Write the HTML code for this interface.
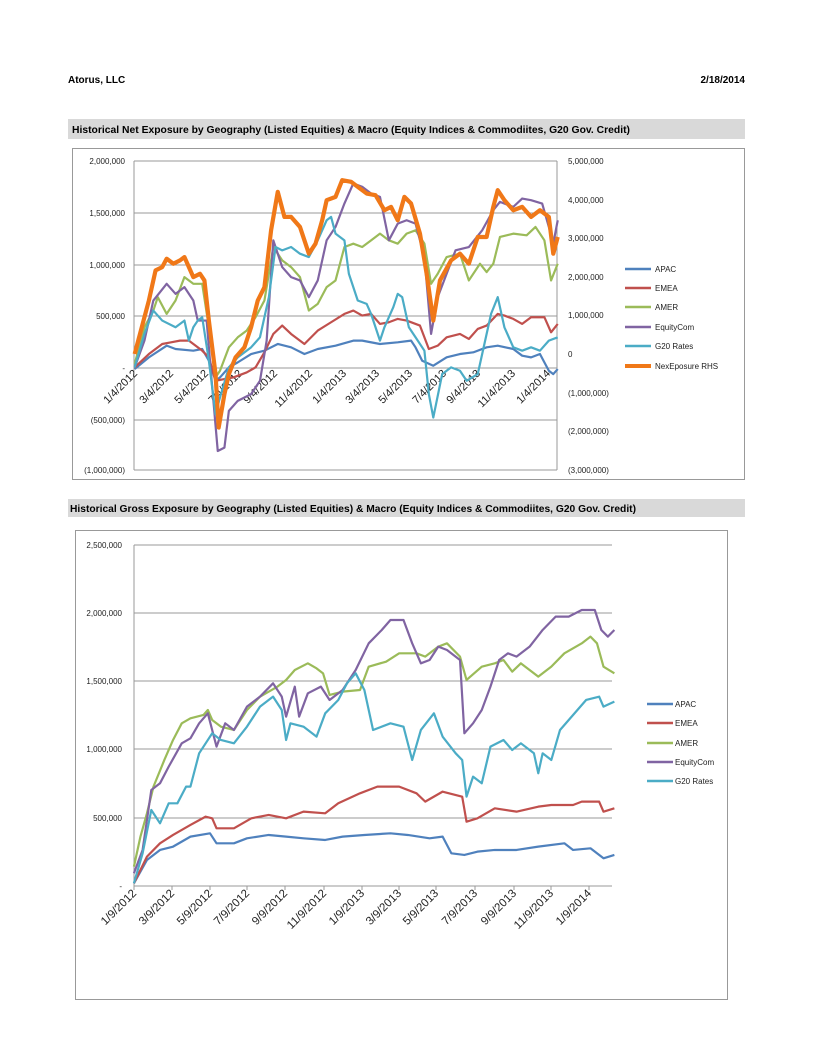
<!DOCTYPE html>
<html><head><meta charset="utf-8"><style>
body{margin:0;background:#fff;}
svg text{font-family:"Liberation Sans",sans-serif;}
</style></head><body>
<svg width="816" height="1056" viewBox="0 0 816 1056" xmlns="http://www.w3.org/2000/svg">
<style>.t{font-size:8px;fill:#222}.p{fill:none;stroke-width:2.2;vector-effect:non-scaling-stroke;stroke-linejoin:round}</style>
<text x="68" y="83" font-size="10" font-weight="bold">Atorus, LLC</text>
<text x="745" y="83" font-size="10" font-weight="bold" text-anchor="end">2/18/2014</text>
<rect x="68" y="119" width="677" height="20" fill="#d9d9d9"/>
<text x="72" y="133" font-size="10.3" font-weight="bold" textLength="558" lengthAdjust="spacingAndGlyphs">Historical Net Exposure by Geography (Listed Equities) &amp; Macro (Equity Indices &amp; Commodiites, G20 Gov. Credit)</text>
<rect x="72.5" y="148.5" width="672" height="331" fill="#fff" stroke="#999"/>
<g stroke="#999" stroke-width="1">
<line x1="134" y1="161" x2="557" y2="161"/><line x1="134" y1="213" x2="557" y2="213"/><line x1="134" y1="265" x2="557" y2="265"/><line x1="134" y1="316" x2="557" y2="316"/><line x1="134" y1="368" x2="557" y2="368"/><line x1="134" y1="420" x2="557" y2="420"/><line x1="134" y1="470" x2="557" y2="470"/>
<line x1="134" y1="161" x2="134" y2="470"/><line x1="557" y1="161" x2="557" y2="470"/>
</g>
<g class="t" text-anchor="end">
<text x="125" y="164">2,000,000</text><text x="125" y="216">1,500,000</text><text x="125" y="268">1,000,000</text><text x="125" y="319">500,000</text><text x="125" y="371">-</text><text x="125" y="423">(500,000)</text><text x="125" y="473">(1,000,000)</text>
</g>
<g class="t">
<text x="568" y="164">5,000,000</text><text x="568" y="203">4,000,000</text><text x="568" y="241">3,000,000</text><text x="568" y="280">2,000,000</text><text x="568" y="318">1,000,000</text><text x="568" y="357">0</text><text x="568" y="396">(1,000,000)</text><text x="568" y="434">(2,000,000)</text><text x="568" y="473">(3,000,000)</text>
</g>
<g class="t" font-size="11" text-anchor="end">
<text transform="translate(138,374) rotate(-45)" font-size="11">1/4/2012</text>
<text transform="translate(174,374) rotate(-45)" font-size="11">3/4/2012</text>
<text transform="translate(209,374) rotate(-45)" font-size="11">5/4/2012</text>
<text transform="translate(243,374) rotate(-45)" font-size="11">7/4/2012</text>
<text transform="translate(278,374) rotate(-45)" font-size="11">9/4/2012</text>
<text transform="translate(313,374) rotate(-45)" font-size="11">11/4/2012</text>
<text transform="translate(347,374) rotate(-45)" font-size="11">1/4/2013</text>
<text transform="translate(380,374) rotate(-45)" font-size="11">3/4/2013</text>
<text transform="translate(413,374) rotate(-45)" font-size="11">5/4/2013</text>
<text transform="translate(447,374) rotate(-45)" font-size="11">7/4/2013</text>
<text transform="translate(481,374) rotate(-45)" font-size="11">9/4/2013</text>
<text transform="translate(516,374) rotate(-45)" font-size="11">11/4/2013</text>
<text transform="translate(551,374) rotate(-45)" font-size="11">1/4/2014</text>
</g>
<g transform="translate(60,140) scale(0.4444,0.3344)">
<polyline class="p" stroke="#4F81BD" points="168,685 200,650 240,615 260,625 300,630 320,625 335,660 350,720 360,710 380,680 400,665 430,640 460,630 490,610 520,620 550,640 580,625 620,615 660,600 680,600 720,610 760,605 790,600 800,620 815,660 840,675 870,650 900,640 930,635 960,620 985,615 1020,625 1040,645 1060,650 1080,640 1100,690 1110,700 1120,685"/>
<polyline class="p" stroke="#C0504D" points="168,680 200,640 230,610 250,605 270,600 290,600 320,630 335,650 350,720 370,715 390,710 420,695 440,680 460,635 480,580 500,555 520,580 550,610 580,570 610,545 640,520 660,510 680,525 700,520 720,550 740,545 760,535 780,540 810,555 830,625 850,615 870,590 900,580 920,595 940,565 960,555 985,520 1000,525 1020,535 1040,550 1060,530 1090,530 1105,575 1120,550"/>
<polyline class="p" stroke="#9BBB59" points="168,670 190,560 210,510 220,470 240,520 260,480 280,410 300,430 320,430 335,560 350,710 360,690 380,620 400,590 420,570 440,530 460,480 480,320 500,360 520,380 540,410 560,510 580,490 600,440 620,420 640,320 660,310 680,320 700,300 720,280 740,300 760,310 780,280 800,270 820,310 835,430 850,400 870,350 900,340 920,420 945,370 960,395 975,370 990,290 1020,280 1050,285 1070,260 1090,300 1105,420 1120,370"/>
<polyline class="p" stroke="#8064A2" points="168,680 190,600 210,480 240,430 260,460 280,440 300,480 310,540 330,540 340,700 355,930 370,920 380,810 400,780 430,760 450,720 465,600 480,300 500,380 520,410 540,420 560,470 580,420 600,300 620,260 640,190 660,130 680,140 700,160 720,170 740,300 760,250 780,240 800,250 820,350 835,580 850,470 870,400 890,330 920,320 950,270 975,210 990,185 1020,200 1040,175 1060,180 1085,190 1100,260 1110,310 1120,240"/>
<polyline class="p" stroke="#4BACC6" points="168,680 190,580 210,510 230,540 260,560 280,540 290,600 300,560 310,540 320,530 335,660 350,820 360,770 380,680 400,650 430,620 450,590 470,470 485,320 500,330 520,320 540,340 560,350 580,300 600,240 610,230 620,280 640,300 650,400 670,480 690,490 700,520 720,600 730,560 750,500 760,460 770,470 785,560 800,590 820,630 830,760 840,830 860,700 880,680 900,690 915,720 940,700 950,640 970,520 985,470 1000,560 1020,620 1040,630 1060,620 1080,630 1100,600 1120,590"/>
<polyline class="p" stroke="#F07818" style="stroke-width:4.2" points="168,640 180,580 200,480 215,390 230,380 240,355 255,370 270,360 280,350 300,410 315,400 325,420 335,540 350,700 357,860 370,760 380,700 395,650 415,620 430,560 445,480 460,440 475,270 490,155 505,230 520,230 540,260 560,340 575,310 590,240 600,180 620,170 635,120 655,125 670,140 690,160 710,165 730,210 745,200 760,240 775,170 790,190 810,280 825,400 840,540 855,420 880,360 900,340 920,370 940,290 960,290 975,200 985,150 1000,180 1020,210 1040,200 1060,230 1080,210 1100,230 1110,340 1120,290"/>
</g>
<g stroke-width="2.5">
<line x1="625" y1="269" x2="651" y2="269" stroke="#4F81BD"/><line x1="625" y1="288" x2="651" y2="288" stroke="#C0504D"/><line x1="625" y1="307" x2="651" y2="307" stroke="#9BBB59"/><line x1="625" y1="327" x2="651" y2="327" stroke="#8064A2"/><line x1="625" y1="346" x2="651" y2="346" stroke="#4BACC6"/><line x1="625" y1="366" x2="651" y2="366" stroke="#F07818" stroke-width="4"/>
</g>
<g class="t"><text x="655" y="272">APAC</text><text x="655" y="291">EMEA</text><text x="655" y="310">AMER</text><text x="655" y="330">EquityCom</text><text x="655" y="349">G20 Rates</text><text x="655" y="369">NexEposure RHS</text></g>

<rect x="68" y="499" width="677" height="18" fill="#d9d9d9"/>
<text x="70" y="512" font-size="10.3" font-weight="bold" textLength="566" lengthAdjust="spacingAndGlyphs">Historical Gross Exposure by Geography (Listed Equities) &amp; Macro (Equity Indices &amp; Commodiites, G20 Gov. Credit)</text>
<rect x="75.5" y="530.5" width="652" height="469" fill="#fff" stroke="#999"/>
<g stroke="#999" stroke-width="1">
<line x1="134" y1="545" x2="612" y2="545"/><line x1="134" y1="613" x2="612" y2="613"/><line x1="134" y1="681" x2="612" y2="681"/><line x1="134" y1="749" x2="612" y2="749"/><line x1="134" y1="818" x2="612" y2="818"/><line x1="134" y1="886" x2="612" y2="886"/>
<line x1="134" y1="545" x2="134" y2="886"/>
</g>
<g stroke="#999"><line x1="134" y1="886" x2="134" y2="890"/><line x1="172" y1="886" x2="172" y2="890"/><line x1="210" y1="886" x2="210" y2="890"/><line x1="247" y1="886" x2="247" y2="890"/><line x1="285" y1="886" x2="285" y2="890"/><line x1="324" y1="886" x2="324" y2="890"/><line x1="362" y1="886" x2="362" y2="890"/><line x1="399" y1="886" x2="399" y2="890"/><line x1="436" y1="886" x2="436" y2="890"/><line x1="475" y1="886" x2="475" y2="890"/><line x1="514" y1="886" x2="514" y2="890"/><line x1="551" y1="886" x2="551" y2="890"/><line x1="589" y1="886" x2="589" y2="890"/></g>
<g class="t" text-anchor="end">
<text x="122" y="548">2,500,000</text><text x="122" y="616">2,000,000</text><text x="122" y="684">1,500,000</text><text x="122" y="752">1,000,000</text><text x="122" y="821">500,000</text><text x="122" y="889">-</text>
</g>
<g class="t" text-anchor="end">
<text transform="translate(137,894) rotate(-45)" font-size="11.5">1/9/2012</text>
<text transform="translate(175,894) rotate(-45)" font-size="11.5">3/9/2012</text>
<text transform="translate(213,894) rotate(-45)" font-size="11.5">5/9/2012</text>
<text transform="translate(250,894) rotate(-45)" font-size="11.5">7/9/2012</text>
<text transform="translate(288,894) rotate(-45)" font-size="11.5">9/9/2012</text>
<text transform="translate(327,894) rotate(-45)" font-size="11.5">11/9/2012</text>
<text transform="translate(365,894) rotate(-45)" font-size="11.5">1/9/2013</text>
<text transform="translate(402,894) rotate(-45)" font-size="11.5">3/9/2013</text>
<text transform="translate(439,894) rotate(-45)" font-size="11.5">5/9/2013</text>
<text transform="translate(478,894) rotate(-45)" font-size="11.5">7/9/2013</text>
<text transform="translate(517,894) rotate(-45)" font-size="11.5">9/9/2013</text>
<text transform="translate(554,894) rotate(-45)" font-size="11.5">11/9/2013</text>
<text transform="translate(592,894) rotate(-45)" font-size="11.5">1/9/2014</text>
</g>
<g transform="translate(60,520) scale(0.4348,0.3333)">
<polyline class="p" stroke="#4F81BD" points="170,1090 200,1020 230,990 260,980 300,950 345,940 360,970 400,970 430,955 480,945 520,950 560,955 610,960 650,950 700,945 760,940 800,945 850,955 880,950 900,1000 930,1005 960,995 1000,990 1050,990 1100,980 1160,970 1180,990 1220,985 1250,1015 1275,1005"/>
<polyline class="p" stroke="#C0504D" points="170,1090 200,1010 230,970 260,945 300,915 335,890 350,895 360,925 400,925 440,895 480,885 520,895 560,875 610,880 640,850 690,820 730,800 780,800 820,820 840,845 880,815 925,830 935,905 960,895 1000,865 1050,875 1100,860 1130,855 1180,855 1200,845 1240,845 1250,875 1275,865"/>
<polyline class="p" stroke="#9BBB59" points="170,1040 185,950 200,880 215,800 240,720 260,660 280,610 300,595 330,585 340,570 350,600 370,620 400,630 430,570 460,530 500,500 520,480 540,450 570,430 590,445 605,460 620,525 650,515 690,510 710,440 750,425 780,400 820,400 840,410 870,380 890,370 920,410 935,480 970,440 1000,430 1020,420 1040,455 1060,430 1100,470 1130,440 1160,400 1200,370 1220,350 1235,370 1250,440 1275,460"/>
<polyline class="p" stroke="#8064A2" points="170,1060 190,990 210,810 230,790 250,740 280,670 300,655 320,610 340,580 350,630 360,680 380,610 400,630 430,560 460,530 490,490 510,530 520,590 540,500 550,590 570,520 600,500 620,540 650,510 680,450 710,370 740,330 760,300 790,300 810,370 830,430 850,420 870,380 890,390 920,420 930,640 950,610 970,570 990,500 1010,420 1030,400 1050,410 1080,380 1110,330 1140,290 1170,290 1200,270 1230,270 1245,330 1260,350 1275,330"/>
<polyline class="p" stroke="#4BACC6" points="170,1090 190,1000 210,870 230,910 250,850 270,850 290,800 300,800 320,700 350,640 370,660 400,670 430,620 460,560 490,530 510,570 520,660 530,610 560,620 590,650 610,580 640,540 660,490 680,460 700,510 720,630 760,610 790,620 810,720 830,630 860,580 880,650 910,700 925,720 935,830 950,770 970,790 990,680 1020,660 1040,690 1060,670 1090,700 1100,760 1110,700 1130,720 1150,630 1170,600 1210,540 1240,530 1250,560 1275,545"/>
</g>
<g stroke-width="2.5">
<line x1="647" y1="704" x2="673" y2="704" stroke="#4F81BD"/><line x1="647" y1="723" x2="673" y2="723" stroke="#C0504D"/><line x1="647" y1="743" x2="673" y2="743" stroke="#9BBB59"/><line x1="647" y1="762" x2="673" y2="762" stroke="#8064A2"/><line x1="647" y1="781" x2="673" y2="781" stroke="#4BACC6"/>
</g>
<g class="t"><text x="675" y="707">APAC</text><text x="675" y="726">EMEA</text><text x="675" y="746">AMER</text><text x="675" y="765">EquityCom</text><text x="675" y="784">G20 Rates</text></g>
</svg>
</body></html>
